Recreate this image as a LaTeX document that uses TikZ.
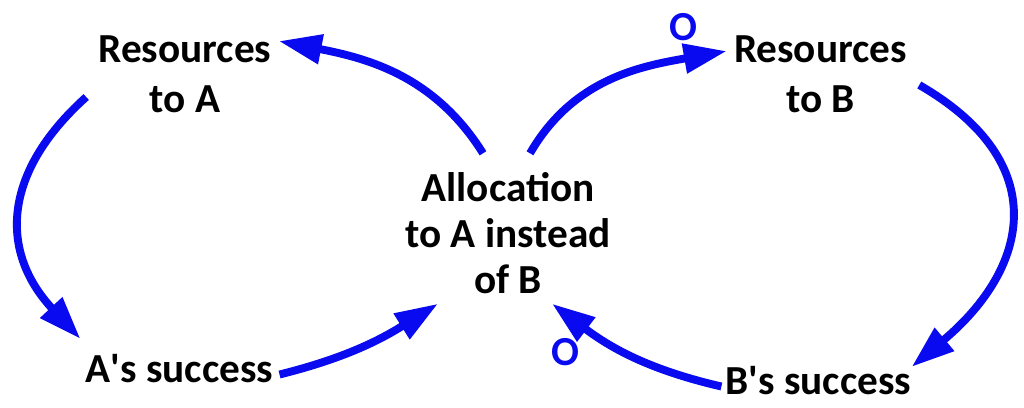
\documentclass[tikz,border=0pt]{standalone}
\usepackage{fontspec}
\setmainfont{Carlito}
\usetikzlibrary{arrows.meta}
\definecolor{loopblue}{RGB}{10,10,240}

\begin{document}
\begin{tikzpicture}[x=0.02cm, y=-0.02cm,
  lbl/.style={font=\bfseries\fontsize{23.5}{28.5}\selectfont, align=center, inner sep=0pt},
  mid/.style={font=\bfseries\fontsize{23.5}{26}\selectfont, align=center, inner sep=0pt},
  pol/.style={font=\bfseries\fontsize{23.5}{26}\selectfont, text=loopblue, inner sep=0pt},
  lnk/.style={-{Triangle[length=0.86cm,width=0.57cm]}, line width=4.5pt, draw=loopblue}
]
  \useasboundingbox (0,0) rectangle (1024,407);
  \node[lbl] (resA) at (185,74)     {Resources\\to A};
  \node[lbl] (resB) at (820.5,74)   {Resources\\to B};
  \node[mid] (alloc) at (508,233)   {Allocation\\to A instead\\of B};
  \node[lbl] (sucA) at (179.5,368.5) {A\textquotesingle s success};
  \node[lbl] (sucB) at (818.5,380.5) {B\textquotesingle s success};
  \node[pol] (oB) at (683,27)       {O};
  \node[pol] (oA) at (565,352)      {O};
  \draw[lnk] ([shift={(-25,-19)}]alloc.north) to[out=122, in=-11] ([shift={(7,6)}]resA.north east);
  \draw[lnk] ([shift={(22,-19)}]alloc.north) to[out=60, in=190] ([shift={(-7,16)}]resB.north west);
  \draw[lnk] ([shift={(-12,23)}]resA.west) to[out=222, in=133, looseness=1.23] ([shift={(-5,-15)}]sucA.north west);
  \draw[lnk] ([shift={(6,6)}]sucA.east) to[out=14, in=212] ([shift={(-70,10)}]alloc.south);
  \draw[lnk] ([shift={(12,11)}]resB.east) to[out=-30, in=40, looseness=1.4] ([shift={(0,1)}]sucB.north east);
  \draw[lnk] ([shift={(-4,6)}]sucB.west) to[out=167, in=-37] ([shift={(44,10)}]alloc.south);
\end{tikzpicture}
\end{document}
